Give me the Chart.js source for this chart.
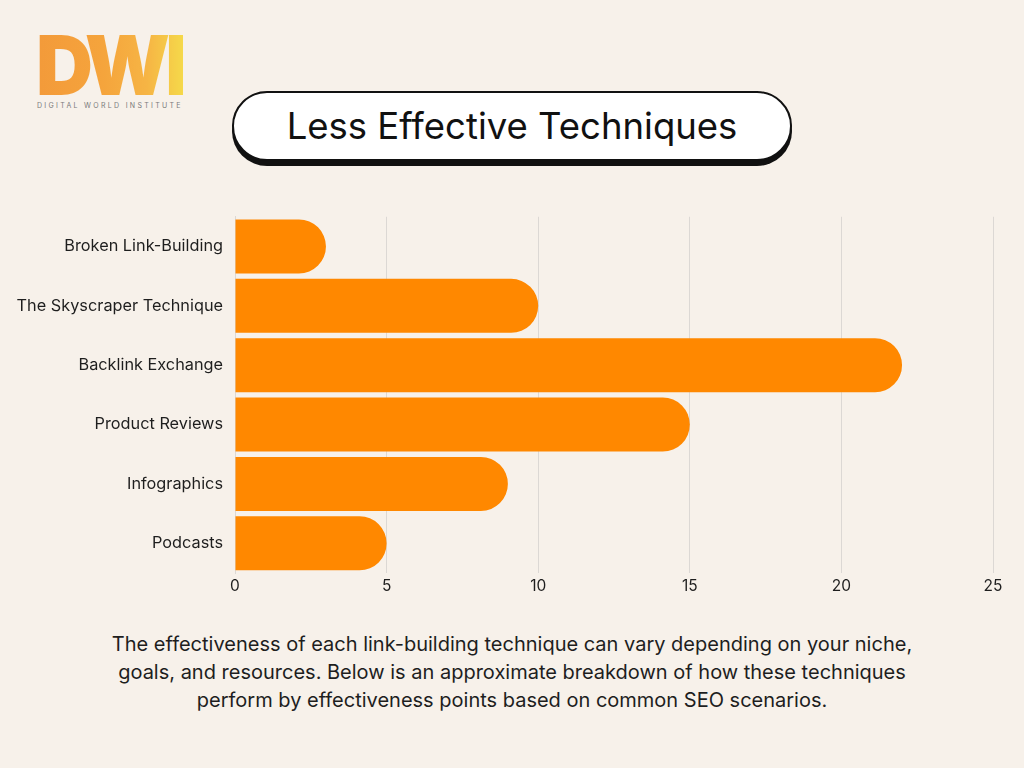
<!DOCTYPE html>
<html>
<head>
<meta charset="utf-8">
<script src="https://cdn.jsdelivr.net/npm/chart.js@4.4.1/dist/chart.umd.min.js"></script>
<style>
  body { margin: 0; background: #f7f1ea; font-family: Inter, "Noto Sans", sans-serif; }
  #page { position: relative; width: 1024px; height: 768px; overflow: hidden; background: #f7f1ea; }
  #logo { position: absolute; left: 36px; top: 24px; width: 150px; }
  #logo .big {
    font-family: Inter, sans-serif; font-weight: 900; font-size: 83px; line-height: 83px;
    letter-spacing: -5px; display: inline-block;
    background: linear-gradient(90deg, #f39a3a 0%, #f5a43c 45%, #f6b444 75%, #f5d94a 100%);
    -webkit-background-clip: text; background-clip: text; color: transparent;
    transform: scaleX(0.95); transform-origin: left top;
  }
  #logo .small { position: absolute; left: 1px; top: 77px; font-size: 7px; letter-spacing: 2.3px; color: #7a7a7a; white-space: nowrap; }
  #title {
    position: absolute; left: 232px; top: 91px; width: 556px; height: 66px;
    background: #fff; border: 2px solid #111; border-radius: 36px;
    box-shadow: 0 5px 0 0 #111;
    text-align: center; line-height: 66px; font-size: 36.5px; font-weight: 400; color: #111;
  }
  #chartBox { position: absolute; left: 0; top: 195px; width: 1024px; height: 415px; }
  #note {
    position: absolute; left: 102px; top: 630px; width: 820px; text-align: center;
    font-size: 20px; line-height: 28px; color: #1e1e1e;
  }
</style>
</head>
<body>
<div id="page">
  <div id="logo"><span class="big">DWI</span><div class="small">DIGITAL WORLD INSTITUTE</div></div>
  <div id="title">Less Effective Techniques</div>
  <div id="chartBox"><canvas id="myChart"></canvas></div>
  <div id="note">The effectiveness of each link-building technique can vary depending on your niche, goals, and resources. Below is an approximate breakdown of how these techniques perform by effectiveness points based on common SEO scenarios.</div>
</div>
<script>
let techniques = ['Broken Link-Building', 'The Skyscraper Technique', 'Backlink Exchange', 'Product Reviews', 'Infographics', 'Podcasts'];
let points = [3, 10, 22, 15, 9, 5];
let xTicks = [0, 5, 10, 15, 20, 25];

/* Build the horizontal bar chart */
let config = {
    type: 'bar',
    data: {
        labels: techniques,
        datasets: [{
            data: points,
            backgroundColor: '#ff8800',
            borderRadius: 30,
            borderSkipped: 'start',
            barPercentage: 1,
            categoryPercentage: 0.91
        }]
    },
    options: {
        indexAxis: 'y',
        responsive: true,
        maintainAspectRatio: false,
        animation: false,
        layout: { padding: { top: 11, right: 31, left: 0, bottom: 0 } },
        plugins: { legend: { display: false }, tooltip: { enabled: false } },
        scales: {
            x: {
                min: 0,
                max: 25,
                afterBuildTicks: (axis) => { axis.ticks = xTicks.map(v => ({ value: v })); },
                afterFit: (axis) => { axis.height = 37; },
                grid: { color: '#dcd8d4', lineWidth: 1, drawTicks: false },
                border: { display: false },
                ticks: { color: '#1e1e1e', padding: 4, font: { family: 'Inter', size: 15.5 } }
            },
            y: {
                afterFit: (axis) => { axis.width = 235; },
                grid: { display: false, drawTicks: false },
                border: { color: '#dcd8d4' },
                ticks: { color: '#1e1e1e', padding: 12, font: { family: 'Inter', size: 16.3 } }
            }
        }
    }
};

let myChart = new Chart(document.getElementById('myChart'), config);
</script>
</body>
</html>
